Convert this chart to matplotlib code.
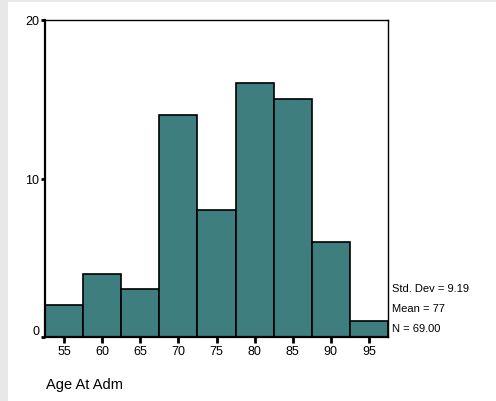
import matplotlib
matplotlib.use("Agg")
import matplotlib.pyplot as plt
from matplotlib.patches import Rectangle

plt.rcParams['font.family'] = ['Liberation Sans', 'DejaVu Sans']

bin_centers = [55, 60, 65, 70, 75, 80, 85, 90, 95]
counts = [2, 4, 3, 14, 8, 16, 15, 6, 1]
bin_width = 5
y_ticks = [0, 10, 20]
stats = ["Std. Dev = 9.19", "Mean = 77", "N = 69.00"]

fig = plt.figure(figsize=(4.96, 4.02), dpi=100)
fig.patch.set_facecolor('white')
# gray strips at the top and left edges
fig.patches.append(Rectangle((0, 1 - 3 / 402), 1, 3 / 402, transform=fig.transFigure,
                             facecolor='#e8e8e8', edgecolor='none', zorder=0))
fig.patches.append(Rectangle((0, 0), 8 / 496, 1, transform=fig.transFigure,
                             facecolor='#e8e8e8', edgecolor='none', zorder=0))

ax = fig.add_axes([45 / 496, 1 - 338 / 402, 343 / 496, 317 / 402])
ax.bar(bin_centers, counts, width=bin_width, color='#3f7e7e', edgecolor='black',
       linewidth=1.2, zorder=2)
ax.set_xlim(52.5, 97.5)
ax.set_ylim(0, 20)
ax.set_xticks(bin_centers)
ax.set_yticks(y_ticks)
ax.tick_params(axis='x', direction='out', length=4, width=2, labelsize=9, pad=2)
ax.tick_params(axis='y', direction='out', length=3, width=2, labelsize=9, pad=1)
ax.get_yticklabels()[0].set_verticalalignment('bottom')
for s in ax.spines.values():
    s.set_linewidth(1.0)
ax.spines['left'].set_linewidth(1.6)
ax.spines['bottom'].set_linewidth(1.6)

for i, t in enumerate(stats):
    fig.text(392 / 496, 1 - (289 + 20 * i) / 402, t, fontsize=8, va='center', ha='left')

fig.text(46 / 496, 1 - 385 / 402, "Age At Adm", fontsize=10.5, va='center', ha='left')

fig.savefig("out.png", dpi=100)
